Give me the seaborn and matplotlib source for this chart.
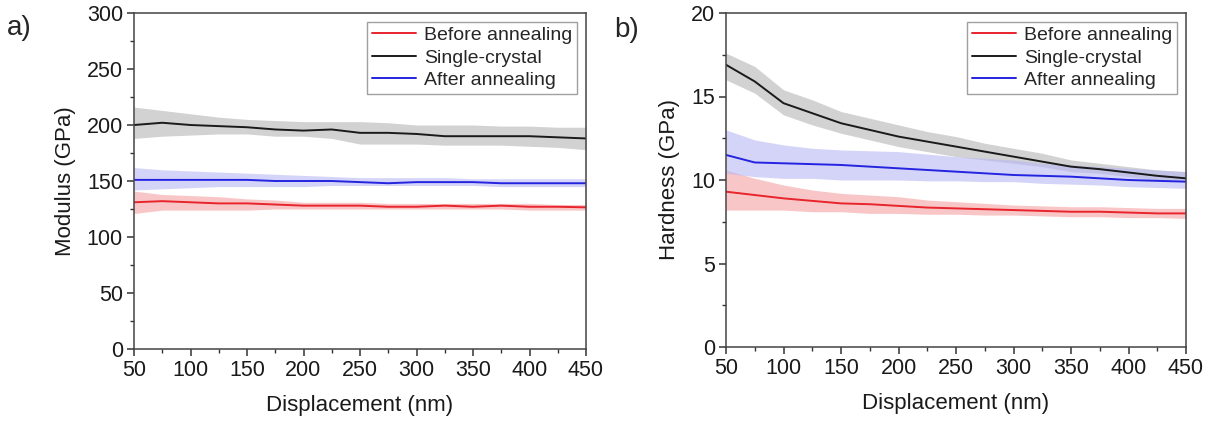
import numpy as np
import pandas as pd
import matplotlib
matplotlib.use("Agg")
import matplotlib.pyplot as plt
import seaborn as sns
from matplotlib.ticker import MultipleLocator

# ---------------- data ----------------
displacement = [50, 75, 100, 125, 150, 175, 200, 225, 250, 275, 300, 325, 350, 375, 400, 425, 450]
series_names = ["Before annealing", "Single-crystal", "After annealing"]

# Modulus (GPa)
mod_before = [131, 132, 131, 130, 130, 129, 128, 128, 128, 127, 127, 128, 127, 128, 127, 127, 126.5]
mod_before_lo = [121, 124, 124, 124, 124, 125, 125, 125, 125, 125, 125, 125, 125, 125, 124, 124, 124]
mod_before_hi = [141, 138, 137, 136, 134, 133, 131, 131, 131, 130, 130, 130, 130, 130, 130, 129, 129]

mod_single = [200, 202, 200, 199, 198, 196, 195, 196, 193, 193, 192, 190, 190, 190, 190, 189, 188]
mod_single_lo = [188, 190, 191, 192, 192, 190, 190, 188, 183, 183, 183, 182, 182, 182, 181, 180, 178]
mod_single_hi = [216, 213, 210, 207, 205, 204, 203, 203, 203, 202, 200, 200, 200, 199, 199, 198, 198]

mod_after = [151, 151, 151, 151, 151, 150, 150, 150, 149, 148, 149, 149, 149, 148, 148, 148, 148]
mod_after_lo = [142, 143, 144, 145, 145, 145, 145, 146, 146, 146, 146, 146, 146, 145, 145, 145, 145]
mod_after_hi = [162, 160, 159, 158, 157, 156, 155, 154, 153, 153, 153, 153, 152, 152, 152, 152, 152]

# Hardness (GPa)
hard_before = [9.3, 9.1, 8.9, 8.75, 8.6, 8.55, 8.45, 8.35, 8.3, 8.25, 8.2, 8.15, 8.1, 8.1, 8.05, 8.0, 8.0]
hard_before_lo = [8.2, 8.2, 8.2, 8.1, 8.1, 8.0, 8.0, 7.95, 7.95, 7.9, 7.9, 7.85, 7.8, 7.8, 7.75, 7.75, 7.7]
hard_before_hi = [10.6, 10.1, 9.7, 9.4, 9.2, 9.1, 9.0, 8.8, 8.7, 8.6, 8.5, 8.45, 8.4, 8.4, 8.35, 8.3, 8.3]

hard_single = [16.9, 15.9, 14.6, 14.0, 13.4, 13.0, 12.6, 12.3, 12.0, 11.7, 11.4, 11.1, 10.8, 10.65, 10.45, 10.25, 10.1]
hard_single_lo = [16.0, 15.2, 13.9, 13.3, 12.8, 12.4, 12.0, 11.7, 11.4, 11.2, 11.0, 10.8, 10.5, 10.4, 10.2, 10.0, 9.9]
hard_single_hi = [17.6, 16.8, 15.4, 14.8, 14.1, 13.7, 13.3, 12.9, 12.6, 12.2, 11.9, 11.6, 11.2, 11.0, 10.8, 10.6, 10.5]

hard_after = [11.5, 11.05, 11.0, 10.95, 10.9, 10.8, 10.7, 10.6, 10.5, 10.4, 10.3, 10.25, 10.2, 10.1, 10.0, 9.95, 9.9]
hard_after_lo = [10.4, 10.2, 10.1, 10.1, 10.0, 10.0, 10.0, 9.95, 9.95, 9.9, 9.9, 9.8, 9.75, 9.7, 9.6, 9.55, 9.5]
hard_after_hi = [13.0, 12.4, 12.1, 11.9, 11.8, 11.75, 11.7, 11.55, 11.4, 11.3, 11.2, 11.0, 10.9, 10.8, 10.7, 10.6, 10.5]

colors = {"Before annealing": "#e8242c", "Single-crystal": "#1a1a1a", "After annealing": "#2424e0"}
band_colors = {"Before annealing": "#f5a0a2", "Single-crystal": "#b4b4b4", "After annealing": "#b8b8f4"}

def make_df(vals):
    rows = []
    for name, (m, lo, hi) in zip(series_names, vals):
        for x, a, b, c in zip(displacement, m, lo, hi):
            rows.append({"Displacement": x, "value": a, "lo": b, "hi": c, "series": name})
    return pd.DataFrame(rows)

df_mod = make_df([(mod_before, mod_before_lo, mod_before_hi),
                  (mod_single, mod_single_lo, mod_single_hi),
                  (mod_after, mod_after_lo, mod_after_hi)])
df_hard = make_df([(hard_before, hard_before_lo, hard_before_hi),
                   (hard_single, hard_single_lo, hard_single_hi),
                   (hard_after, hard_after_lo, hard_after_hi)])

# ---------------- figure ----------------
sns.set_theme(style="ticks")
plt.rcParams["font.family"] = ["Liberation Sans", "DejaVu Sans"]

W, H = 1215, 425
fig = plt.figure(figsize=(W / 100, H / 100), dpi=100)
ax1 = fig.add_axes([134 / W, 1 - 349 / H, (586 - 134) / W, (349 - 13) / H])
ax2 = fig.add_axes([726 / W, 1 - 347 / H, (1186 - 726) / W, (347 - 13) / H])

def draw(ax, df, ylabel, ylim, ymajor, yminor):
    for name in series_names:
        sub = df[df.series == name]
        ax.fill_between(sub.Displacement, sub.lo, sub.hi, color=band_colors[name], alpha=0.6, lw=0)
    sns.lineplot(data=df, x="Displacement", y="value", hue="series", hue_order=series_names,
                 palette=colors, ax=ax, lw=1.4)
    ax.set_xlim(50, 450)
    ax.set_ylim(*ylim)
    ax.xaxis.set_major_locator(MultipleLocator(50))
    ax.xaxis.set_minor_locator(MultipleLocator(25))
    ax.yaxis.set_major_locator(MultipleLocator(ymajor))
    ax.yaxis.set_minor_locator(MultipleLocator(yminor))
    ax.tick_params(which="major", direction="out", length=5, width=1.1, labelsize=15.5,
                   color="#333333", labelcolor="#1a1a1a", pad=3)
    ax.tick_params(which="minor", direction="out", length=3, width=1.0, color="#333333")
    for s in ax.spines.values():
        s.set_color("#444444")
        s.set_linewidth(1.1)
    ax.set_xlabel("Displacement (nm)", fontsize=16, labelpad=10, color="#1a1a1a")
    ax.set_ylabel(ylabel, fontsize=16, labelpad=8, color="#1a1a1a")
    leg = ax.legend(loc="upper right", fontsize=14, frameon=True, fancybox=False,
                    handlelength=2.3, borderpad=0.25, labelspacing=0.25, handletextpad=0.4,
                    borderaxespad=0.45)
    leg.get_frame().set_edgecolor("#888888")
    leg.get_frame().set_linewidth(1.0)
    for ln in leg.get_lines():
        ln.set_linewidth(1.4)

draw(ax1, df_mod, "Modulus (GPa)", (0, 300), 50, 25)
draw(ax2, df_hard, "Hardness (GPa)", (0, 20), 5, 2.5)

fig.text(7 / W, 1 - 28 / H, "a)", fontsize=20, va="center", ha="left")
fig.text(614 / W, 1 - 30 / H, "b)", fontsize=20, va="center", ha="left")

fig.savefig("out.png", dpi=100)
